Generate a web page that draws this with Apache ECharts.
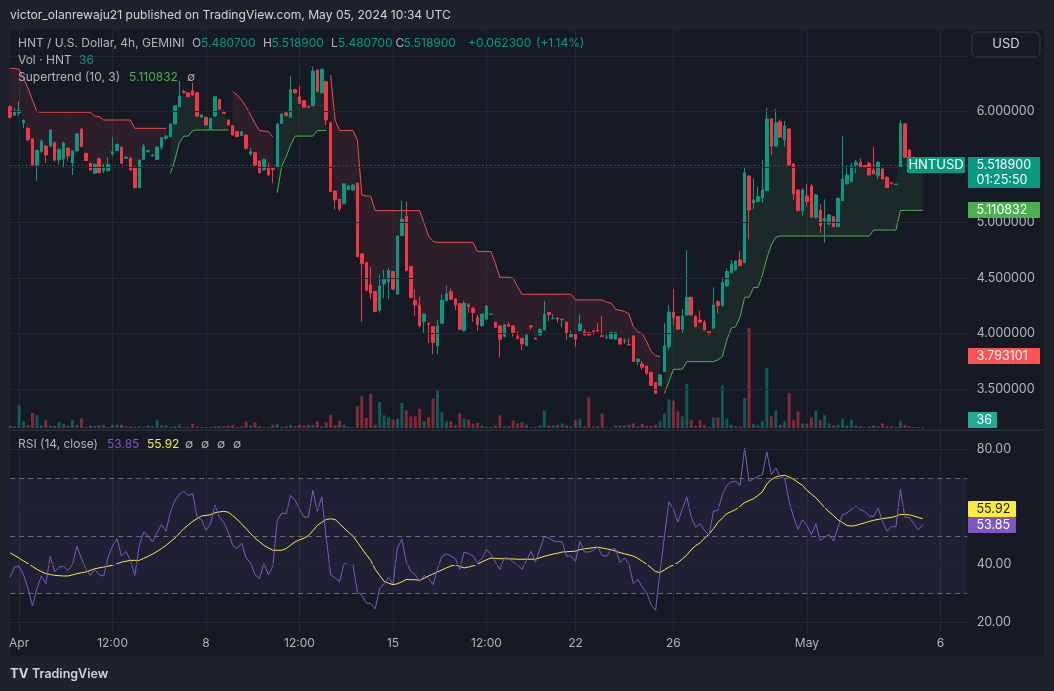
<!DOCTYPE html>
<html>
<head>
<meta charset="utf-8">
<script src="https://cdn.jsdelivr.net/npm/echarts@6/dist/echarts.min.js"></script>
<style>
html,body{margin:0;padding:0;background:#1e222d;overflow:hidden}
#chart{width:1054px;height:691px}
</style>
</head>
<body>
<div id="chart"></div>
<script>
// ---------- DATA ----------
const tickIdx  = [2, 23, 44, 65, 86, 107, 127, 149, 179, 209];
const tickText = ['Apr', '12:00', '8', '12:00', '15', '12:00', '22', '26', 'May', '6'];
const priceLabelVals = [3.5, 4.0, 4.5, 5.0, 6.0];
const priceGridVals  = [3.5, 4.0, 4.5, 5.0, 5.5, 6.0, 6.5];
const rsiLabelVals   = [20, 40, 80];
const rsiGridVals    = [20, 40, 60, 80];
const rsiDashVals    = [30, 50, 70];

const opens = [
6.045,5.97,5.99,5.90,5.85,5.754,5.52,5.64,5.69,5.69,
5.72,5.565,5.574,5.67,5.54,5.646,5.844,5.625,5.535,5.445,
5.574,5.47,5.468,5.62,5.65,5.68,5.58,5.58,5.495,5.315,
5.57,5.64,5.60,5.57,5.68,5.76,5.775,5.89,6.045,6.18,
6.17,6.19,6.17,5.95,5.95,5.845,5.96,6.11,6.0,5.925,
5.875,5.82,5.785,5.79,5.62,5.63,5.556,5.475,5.50,5.49,
5.50,5.895,5.99,5.95,6.20,6.135,6.10,6.05,6.054,6.376,
6.17,6.27,5.90,5.285,5.21,5.17,5.30,5.295,5.355,4.72,
4.64,4.44,4.38,4.21,4.448,4.468,4.56,4.355,4.883,5.06,
4.604,4.297,4.259,4.108,4.09,4.063,3.89,4.094,4.297,4.378,
4.313,4.27,4.027,4.26,4.23,4.146,
4.072,4.13,4.174,4.103,4.07,3.973,4.08,4.07,3.973,3.958,
3.892,4.07,3.96,3.988,4.033,4.19,4.135,4.14,4.125,4.103,
3.973,4.0,4.027,4.018,4.01,4.025,4.03,3.98,3.962,3.955,
3.95,3.958,3.932,3.902,3.98,3.748,3.727,3.709,3.652,3.559,
3.532,3.658,3.883,4.193,4.153,4.04,4.168,4.328,4.153,4.123,
4.103,4.018,4.049,4.288,4.252,4.43,4.55,4.574,4.664,4.64,
5.42,5.18,5.19,5.225,5.288,5.934,5.69,5.91,5.745,5.844,
5.529,5.295,5.108,5.24,5.33,5.045,5.114,5.015,4.988,5.054,
4.964,5.198,5.35,5.37,5.52,5.545,5.514,5.535,5.475,5.423,
5.484,5.409,5.36,5.345,5.50,5.89,5.655,5.58,5.52,5.4807];

const closes = [
5.95,6.0,6.01,5.92,5.745,5.52,5.65,5.736,5.61,5.835,
5.565,5.66,5.718,5.60,5.646,5.80,5.685,5.56,5.475,5.526,
5.45,5.50,5.526,5.64,5.706,5.535,5.59,5.475,5.315,5.565,
5.69,5.65,5.61,5.68,5.766,5.78,5.89,6.054,6.14,6.175,
6.135,6.15,5.96,5.97,5.88,5.94,6.135,6.024,5.985,5.88,
5.79,5.775,5.82,5.67,5.64,5.517,5.45,5.57,5.43,5.48,
5.89,5.98,5.964,6.20,6.17,6.075,6.04,6.04,6.367,6.18,
6.382,5.925,5.28,5.205,5.123,5.35,5.333,5.34,4.694,4.63,
4.39,4.364,4.20,4.43,4.49,4.568,4.40,4.88,5.033,4.568,
4.324,4.259,4.07,4.177,4.085,3.92,4.07,4.30,4.358,4.31,
4.26,4.04,4.274,4.245,4.19,4.08,
4.177,4.25,4.176,4.058,3.95,4.08,4.066,4.01,3.955,3.907,
3.988,4.06,3.95,4.04,4.177,4.17,4.138,4.13,4.13,4.003,
4.0,3.95,4.087,3.988,3.988,4.02,4.025,3.975,3.967,4.01,
4.01,3.907,3.937,3.90,3.748,3.772,3.697,3.643,3.532,3.463,
3.628,3.89,4.193,4.144,4.04,4.16,4.328,4.168,4.063,4.105,
4.033,3.997,4.259,4.252,4.46,4.56,4.628,4.655,4.613,5.45,
5.114,5.205,5.234,5.295,5.934,5.69,5.90,5.77,5.871,5.52,
5.259,5.108,5.295,5.19,5.05,5.25,4.973,5.04,5.07,4.964,
5.22,5.394,5.43,5.505,5.545,5.50,5.50,5.43,5.44,5.545,
5.394,5.315,5.355,5.348,5.895,5.59,5.58,5.52,5.4566,5.5189];

const lows = [
5.94,5.96,5.96,5.85,5.74,5.51,5.378,5.63,5.54,5.68,
5.55,5.53,5.50,5.56,5.43,5.64,5.68,5.555,5.465,5.44,
5.445,5.445,5.46,5.60,5.645,5.53,5.575,5.47,5.31,5.31,
5.565,5.635,5.60,5.565,5.655,5.74,5.77,5.885,6.04,6.165,
6.13,6.145,5.955,5.945,5.875,5.84,5.955,6.02,5.98,5.875,
5.785,5.77,5.78,5.655,5.60,5.51,5.445,5.47,5.425,5.355,
5.495,5.89,5.96,5.945,6.165,6.07,6.035,6.035,6.05,6.175,
6.165,5.88,5.275,5.12,5.10,5.165,5.295,5.29,4.69,4.108,
4.385,4.31,4.195,4.19,4.32,4.31,4.395,4.35,4.88,4.56,
4.32,4.16,4.054,4.009,3.913,3.814,3.814,4.09,4.29,4.305,
4.213,4.035,4.02,4.19,4.108,4.027,
4.06,4.125,4.17,4.05,3.784,3.97,4.06,3.973,3.95,3.853,
3.89,4.033,3.948,3.985,4.03,4.114,4.13,4.10,4.054,3.943,
3.97,3.883,4.02,3.985,3.985,3.99,4.02,3.97,3.955,3.95,
3.945,3.90,3.907,3.895,3.745,3.718,3.673,3.628,3.53,3.46,
3.53,3.655,3.847,4.07,4.035,4.0,4.165,4.165,4.06,4.094,
4.03,3.99,4.045,4.184,4.25,4.425,4.545,4.57,4.61,4.635,
4.85,5.12,5.185,5.18,5.285,5.61,5.685,5.765,5.685,5.515,
5.205,5.10,5.06,5.144,5.045,5.04,4.905,4.82,4.98,4.96,
4.96,5.195,5.345,5.365,5.445,5.495,5.495,5.425,5.435,5.39,
5.39,5.31,5.345,5.344,5.495,5.585,5.575,5.50,5.45,5.4807];

const highs = [
6.06,6.04,6.096,5.93,5.86,5.76,5.66,5.75,5.70,5.84,
5.73,5.67,5.73,5.68,5.65,5.81,5.85,5.63,5.54,5.53,
5.59,5.53,5.59,5.77,5.71,5.685,5.60,5.59,5.50,5.57,
5.71,5.655,5.612,5.69,5.77,5.79,5.895,6.06,6.28,6.20,
6.175,6.26,6.175,5.975,5.955,5.945,6.14,6.115,6.01,5.93,
5.88,5.825,5.825,5.795,5.675,5.635,5.56,5.575,5.54,5.495,
5.895,5.985,5.995,6.32,6.205,6.23,6.105,6.055,6.405,6.38,
6.39,6.28,5.91,5.29,5.215,5.355,5.34,5.345,5.36,4.725,
4.645,4.60,4.385,4.53,4.574,4.59,4.565,4.885,5.20,5.19,
4.61,4.40,4.333,4.18,4.10,4.07,4.123,4.35,4.43,4.41,
4.32,4.275,4.297,4.274,4.235,4.168,
4.18,4.255,4.18,4.105,4.075,4.085,4.10,4.075,4.018,3.96,
4.0,4.08,3.962,4.045,4.295,4.195,4.175,4.15,4.135,4.11,
4.024,4.005,4.175,4.04,4.015,4.03,4.094,4.16,3.99,4.015,
4.015,3.96,3.955,3.958,3.985,3.775,3.754,3.712,3.655,3.562,
3.635,4.094,4.259,4.40,4.158,4.222,4.754,4.335,4.17,4.207,
4.123,4.02,4.418,4.304,4.508,4.589,4.664,4.66,4.745,5.505,
5.425,5.40,5.324,5.565,6.036,5.94,6.02,5.93,5.916,5.85,
5.535,5.30,5.31,5.35,5.35,5.26,5.17,5.21,5.075,5.06,
5.225,5.78,5.51,5.54,5.565,5.58,5.52,5.55,5.685,5.555,
5.49,5.42,5.365,5.35,5.925,5.90,5.66,5.60,5.53,5.5189];

const volumes = [
108,68,908,268,108,600,508,108,308,92,92,228,160,92,332,132,388,40,108,92,108,132,40,132,132,132,68,68,40,68,40,108,68,332,
108,108,40,68,132,40,40,172,68,40,40,40,68,68,68,92,120,40,68,268,92,228,68,40,40,132,160,40,68,132,68,132,108,132,132,268,
68,228,532,108,292,132,40,28,868,1268,400,1372,132,1040,508,428,332,372,1000,708,468,468,772,268,428,1172,1508,628,268,268,108,588,372,332,172,200,
108,40,40,108,508,68,68,308,188,228,132,28,40,108,708,108,108,132,188,108,68,308,372,68,1228,68,68,588,28,28,108,108,108,132,188,68,
172,92,68,132,268,572,1132,1092,668,468,1760,332,92,308,132,40,428,428,1708,372,132,68,68,1200,4000,172,132,268,2400,468,708,132,268,1400,308,668,
188,172,428,708,308,508,188,108,132,372,108,332,108,68,28,68,108,68,188,68,68,40,268,132,68,40,40,36];

const N = null;
const stDown = [
6.39,6.39,6.38,6.30,6.21,6.105,6.0,5.995,5.995,5.995,
5.995,5.995,5.995,5.995,5.995,5.995,5.995,5.995,5.995,5.96,
5.955,5.925,5.925,5.925,5.925,5.925,5.925,5.925,5.85,5.85,
5.85,5.85,5.85,5.85,5.85,5.85,N,N,N,N,
N,N,N,N,N,N,N,N,N,N,
6.18,6.15,6.105,6.045,5.97,5.895,5.83,5.826,5.82,5.77,
N,N,N,N,N,N,N,N,N,N,
N,N,6.33,5.925,5.83,5.83,5.83,5.83,5.745,5.25,
5.24,5.24,5.108,5.108,5.108,5.108,5.108,5.108,5.108,5.108,
5.108,5.108,5.108,4.994,4.88,4.83,4.823,4.823,4.823,4.823,
4.823,4.823,4.823,4.823,4.823,4.74,4.74,4.74,4.74,4.634,
4.508,4.508,4.508,4.50,4.423,4.355,4.355,4.355,4.355,4.355,
4.355,4.355,4.355,4.355,4.355,4.355,4.355,4.304,4.304,4.304,
4.304,4.304,4.304,4.304,4.283,4.275,4.22,4.21,4.20,4.178,
4.063,4.018,4.0,3.928,3.838,3.802,3.793101,N,N,N,
N,N,N,N,N,N,N,N,N,N,
N,N,N,N,N,N,N,N,N,N,
N,N,N,N,N,N,N,N,N,N,
N,N,N,N,N,N,N,N,N,N,
N,N,N,N,N,N,N,N,N,N,
N,N,N,N,N,N];

const stUp = [
N,N,N,N,N,N,N,N,N,N,
N,N,N,N,N,N,N,N,N,N,
N,N,N,N,N,N,N,N,N,N,
N,N,N,N,N,N,5.445,5.565,5.72,5.78,
5.78,5.83,5.835,5.835,5.835,5.835,5.835,5.835,5.835,5.835,
N,N,N,N,N,N,N,N,N,N,
5.27,5.51,5.595,5.70,5.78,5.78,5.78,5.78,5.78,5.83,
5.83,5.83,N,N,N,N,N,N,N,N,
N,N,N,N,N,N,N,N,N,N,
N,N,N,N,N,N,N,N,N,N,
N,N,N,N,N,N,N,N,N,N,
N,N,N,N,N,N,N,N,N,N,
N,N,N,N,N,N,N,N,N,N,
N,N,N,N,N,N,N,N,N,N,
N,N,N,N,N,N,N,3.463,3.567,3.679,
3.679,3.68,3.748,3.748,3.748,3.748,3.748,3.748,3.748,3.763,
3.793,3.943,4.049,4.063,4.153,4.328,4.328,4.415,4.415,4.529,
4.68,4.80,4.868,4.88,4.88,4.88,4.88,4.88,4.88,4.88,
4.88,4.88,4.88,4.88,4.88,4.88,4.88,4.88,4.88,4.88,
4.88,4.88,4.88,4.88,4.934,4.934,4.934,4.934,4.934,4.934,
5.108,5.110832,5.110832,5.110832,5.110832,5.110832];

const rsi = [
35.7,39.2,39.4,36.5,31.7,25.7,31.7,36.1,33.4,42.9,
37.5,39.2,39.4,38.0,40.0,46.4,42.1,38.6,36.3,38.4,
36.5,36.1,42.7,46.5,49.0,43.0,44.6,41.5,36.3,46.7,
51.3,49.9,47.9,51.1,53.9,51.6,58.3,62.3,64.4,65.5,
64.0,64.6,56.5,55.6,51.9,54.2,60.6,56.5,54.6,51.3,
46.7,45.6,47.5,42.3,40.7,36.5,35.2,40.6,36.5,39.4,
55.4,57.9,57.7,64.0,62.3,59.2,56.5,56.5,65.8,58.5,
63.5,49.3,36.5,35.4,34.2,40.4,40.0,40.1,30.5,29.4,
26.8,26.5,24.7,31.7,33.4,35.7,33.4,45.8,48.8,40.9,
37.7,36.5,34.2,36.3,35.2,33.1,38.6,42.9,43.8,43.0,
42.1,38.4,44.4,43.8,43.0,40.6,
42.3,45.3,43.5,40.9,38.4,42.3,42.3,40.9,39.8,38.4,
41.5,44.6,40.9,45.3,49.8,49.3,48.2,48.1,47.9,43.0,
43.0,41.2,48.1,44.4,44.4,45.0,46.1,43.3,42.9,45.3,
45.6,40.7,42.3,40.4,33.4,34.9,32.3,30.3,26.1,24.2,
37.6,50.0,61.7,59.4,54.8,59.2,63.5,56.5,53.0,54.2,
51.9,50.2,58.6,58.8,64.3,67.5,68.7,68.9,67.5,80.5,
68.9,69.8,70.6,71.2,79.1,71.2,73.5,70.4,70.0,61.9,
56.5,52.3,55.6,53.6,50.4,54.2,48.4,49.6,50.4,48.2,
53.1,57.3,57.9,59.2,60.3,59.1,58.5,56.8,56.8,59.7,
54.8,51.6,53.3,53.1,66.1,56.5,56.4,54.2,52.1,53.85];

const rsiMa = [
44.1,43.2,42.3,41.3,40.4,39.4,38.4,37.6,36.9,36.6,
36.3,36.2,36.1,36.1,36.5,36.9,37.2,37.5,38.0,38.6,
38.9,39.2,39.5,39.8,40.3,40.9,41.2,41.5,41.5,41.5,
42.2,42.9,43.7,44.6,45.6,46.7,48.0,49.2,50.9,52.5,
53.8,55.0,56.0,56.9,57.1,57.3,58.0,58.3,58.5,58.2,
57.0,55.7,54.1,52.5,50.8,49.2,48.0,46.7,45.8,45.0,
45.0,45.0,45.6,46.8,47.9,48.6,49.2,50.1,51.8,53.6,
54.7,55.7,55.9,55.7,54.2,52.7,51.3,49.9,47.8,45.6,
43.5,41.5,38.4,36.3,34.2,33.6,33.1,33.4,34.1,34.9,
34.8,34.8,34.6,35.3,36.1,36.8,37.5,38.2,38.9,39.5,
40.0,39.4,38.9,39.2,39.6,40.2,
41.0,41.7,42.3,42.2,42.1,42.1,42.0,42.0,41.9,41.9,
41.9,41.9,41.9,42.4,42.9,43.3,43.7,44.0,44.4,44.5,
44.6,44.7,45.2,45.5,45.7,45.9,46.1,45.8,45.5,45.2,
44.7,44.2,43.8,43.4,43.0,42.2,41.2,40.2,38.9,37.6,
37.3,38.2,39.2,39.9,40.7,42.0,43.3,45.2,46.6,47.6,
49.2,50.6,52.5,54.6,56.2,57.7,58.4,59.1,60.3,61.5,
62.2,62.9,64.0,65.3,68.0,69.5,70.4,70.8,71.0,70.4,
69.6,68.5,67.5,65.8,64.5,63.2,61.5,59.8,58.3,57.0,
55.5,54.6,53.6,53.4,53.6,54.1,54.5,55.0,55.4,55.7,
56.0,56.2,56.4,56.8,57.4,57.4,57.3,56.9,56.4,55.92];

// ---------- CHART ----------
const M = 216;                       // category slots (candles + right margin)
const categories = Array.from({length: M}, () => '');
tickIdx.forEach((k, j) => { categories[k] = tickText[j]; });
const isTick = (i, v) => v !== '';

const FONT = 'Inter, "Noto Sans", sans-serif';
const GRAY = '#b2b5be';
const UP = '#089981', DOWN = '#f23645';
const GRID_C = '#242733';
const LF = '12px ' + FONT;

const candleData = opens.map((o, i) => [o, closes[i], lows[i], highs[i]]);
const volData = volumes.map((v, i) => ({
  value: v,
  itemStyle: {color: closes[i] >= opens[i] ? 'rgba(8,153,129,0.5)' : 'rgba(242,54,69,0.5)'}
}));
const mids = opens.map((o, i) => (o + closes[i]) / 2);
function segments(arr) {
  const segs = []; let s = null;
  for (let i = 0; i < arr.length; i++) {
    if (arr[i] != null) { if (s === null) s = i; }
    else if (s !== null) { segs.push([s, i - 1]); s = null; }
  }
  if (s !== null) segs.push([s, arr.length - 1]);
  return segs;
}
const fillData = segments(stUp).map(s => [s[0], s[1], 1])
  .concat(segments(stDown).map(s => [s[0], s[1], -1]));

const gridL = 10.2, step = 4.451;
const gridW = step * (M - 1);

function txt(x, y, text, fill, font, align) {
  return {type: 'text', x: x, y: y, z: 100, silent: true,
    style: {text: text, fill: fill, font: font || LF, align: align || 'left', verticalAlign: 'middle'}};
}
function box(x, y, w, h, fill) {
  return {type: 'rect', z: 90, silent: true, shape: {x: x, y: y, width: w, height: h, r: 1}, style: {fill: fill}};
}

const graphics = [
  {type: 'rect', z: -10, silent: true, shape: {x: 10, y: 30, width: 1034, height: 626}, style: {fill: '#161a25'}},
  {type: 'rect', z: 50, silent: true, shape: {x: 10, y: 429.5, width: 1034, height: 1.5}, style: {fill: '#2a2e39'}},
  txt(10, 15.5, 'victor_olanrewaju21 published on TradingView.com, May 05, 2024 10:34 UTC', '#d1d4dc', '12.1px ' + FONT),
  txt(18, 43.5, 'HNT / U.S. Dollar, 4h, GEMINI', GRAY),
  txt(192, 43.5, 'O', GRAY), txt(201, 43.5, '5.480700', UP),
  txt(263, 43.5, 'H', GRAY), txt(271.5, 43.5, '5.518900', UP),
  txt(331, 43.5, 'L', GRAY), txt(338, 43.5, '5.480700', UP),
  txt(395.5, 43.5, 'C', GRAY), txt(403.5, 43.5, '5.518900', UP),
  txt(468, 43.5, '+0.062300', UP), txt(536, 43.5, '(+1.14%)', UP),
  txt(18, 60.5, 'Vol · HNT', GRAY), txt(79, 60.5, '36', UP),
  txt(18, 77.5, 'Supertrend (10, 3)', GRAY), txt(129, 77.5, '5.110832', '#4caf50'), txt(187, 77.5, '∅', GRAY),
  txt(18, 444.5, 'RSI (14, close)', GRAY), txt(107, 444.5, '53.85', '#7e57c2'), txt(147, 444.5, '55.92', '#ffeb3b'),
  txt(185, 444.5, '∅', GRAY), txt(201, 444.5, '∅', GRAY), txt(217, 444.5, '∅', GRAY), txt(233, 444.5, '∅', GRAY),
  // price-axis labels
  {type: 'rect', z: 90, silent: true, shape: {x: 972, y: 32, width: 68, height: 25, r: 5}, style: {fill: 'transparent', stroke: '#363a45', lineWidth: 1}},
  txt(1006, 44.5, 'USD', '#d1d4dc', '13px ' + FONT, 'center'),
  box(907, 157, 58, 16, UP), txt(936, 165.5, 'HNTUSD', '#ffffff', '13px ' + FONT, 'center'),
  box(968, 157, 72, 31, UP), txt(976.5, 165.5, '5.518900', '#ffffff', '12.5px ' + FONT), txt(976.5, 180, '01:25:50', '#ffffff', '12.5px ' + FONT),
  box(968, 202, 72, 16, '#4caf50'), txt(976.5, 210.5, '5.110832', '#ffffff', '12.5px ' + FONT),
  box(968, 348, 72, 16, '#ff5252'), txt(976.5, 356.5, '3.793101', '#ffffff', '12.5px ' + FONT),
  box(968, 412, 29, 16, '#22ab94'), txt(976.5, 420.5, '36', '#ffffff', '12.5px ' + FONT),
  box(968, 501, 48, 16, '#ffeb3b'), txt(976.5, 509.5, '55.92', '#131722', '12.5px ' + FONT),
  box(968, 517, 48, 16, '#7e57c2'), txt(976.5, 525.5, '53.85', '#ffffff', '12.5px ' + FONT),
  // footer logo
  txt(10, 674, 'TV', '#d1d4dc', 'bold 13px ' + FONT),
  txt(32, 674, 'TradingView', '#d1d4dc', '600 12.5px ' + FONT)
];

const option = {
  backgroundColor: '#1e222d',
  animation: false,
  textStyle: {fontFamily: FONT},
  graphic: {elements: graphics},
  grid: [
    {left: gridL, top: 30, width: gridW, height: 398},
    {left: gridL, top: 432, width: gridW, height: 200.5}
  ],
  xAxis: [
    {type: 'category', gridIndex: 0, data: categories, boundaryGap: false,
     axisLine: {show: false}, axisTick: {show: false}, axisLabel: {show: false},
     splitLine: {show: true, interval: isTick, lineStyle: {color: GRID_C, width: 1}}},
    {type: 'category', gridIndex: 1, data: categories, boundaryGap: false,
     axisLine: {show: false}, axisTick: {show: false},
     axisLabel: {show: true, interval: 0, color: GRAY, fontSize: 12, fontFamily: FONT, margin: 5},
     splitLine: {show: true, interval: isTick, lineStyle: {color: GRID_C, width: 1}}}
  ],
  yAxis: [
    {type: 'value', gridIndex: 0, position: 'right', min: 3.15, max: 6.736, interval: 0.05,
     axisLine: {show: false}, axisTick: {show: false}, splitLine: {show: false},
     axisLabel: {margin: 9.5, color: GRAY, fontSize: 12.5, fontFamily: FONT,
       formatter: v => priceLabelVals.some(p => Math.abs(p - v) < 1e-6) ? v.toFixed(6) : ''}},
    {type: 'value', gridIndex: 0, min: 0, max: 15920, show: false},
    {type: 'value', gridIndex: 1, position: 'right', min: 16.5, max: 86, interval: 0.5,
     axisLine: {show: false}, axisTick: {show: false}, splitLine: {show: false},
     axisLabel: {margin: 9.5, color: GRAY, fontSize: 12.5, fontFamily: FONT,
       formatter: v => rsiLabelVals.some(p => Math.abs(p - v) < 1e-6) ? v.toFixed(2) : ''}}
  ],
  series: [
    {type: 'line', xAxisIndex: 0, yAxisIndex: 0, data: [], z: 1, silent: true,
     markLine: {silent: true, animation: false, symbol: ['none', 'none'], label: {show: false},
       lineStyle: {color: GRID_C, type: 'solid', width: 1},
       data: priceGridVals.map(v => ({yAxis: v}))}},
    {type: 'bar', xAxisIndex: 0, yAxisIndex: 1, data: volData, barWidth: 3, z: 2, silent: true},
    {type: 'custom', xAxisIndex: 0, yAxisIndex: 0, z: 2, silent: true, data: fillData,
     dimensions: ['s', 'e', 'd'], encode: {x: 0, y: 2},
     renderItem: function (params, api) {
       const s = api.value(0), e = api.value(1), d = api.value(2);
       const arr = d > 0 ? stUp : stDown;
       const pts = [];
       for (let i = s; i <= e; i++) pts.push(api.coord([i, arr[i]]));
       for (let i = e; i >= s; i--) pts.push(api.coord([i, mids[i]]));
       return {type: 'polygon', shape: {points: pts},
         style: {fill: d > 0 ? 'rgba(76,175,80,0.10)' : 'rgba(255,82,82,0.10)'}};
     }},
    {type: 'line', xAxisIndex: 0, yAxisIndex: 0, data: stUp, z: 3, silent: true, showSymbol: false,
     connectNulls: false, lineStyle: {color: '#4caf50', width: 1}},
    {type: 'line', xAxisIndex: 0, yAxisIndex: 0, data: stDown, z: 3, silent: true, showSymbol: false,
     connectNulls: false, lineStyle: {color: '#f24b4b', width: 1}},
    {type: 'candlestick', xAxisIndex: 0, yAxisIndex: 0, data: candleData, barWidth: 3, z: 4, silent: true, clip: false,
     itemStyle: {color: UP, color0: DOWN, borderColor: UP, borderColor0: DOWN, borderWidth: 1},
     markLine: {silent: true, animation: false, symbol: ['none', 'none'], label: {show: false},
       lineStyle: {color: UP, type: [1, 3], width: 1}, data: [{yAxis: 5.5189}]}},
    // RSI pane
    {type: 'line', xAxisIndex: 1, yAxisIndex: 2, data: [], z: 1, silent: true,
     markArea: {silent: true, itemStyle: {color: 'rgba(126,87,194,0.10)'}, data: [[{yAxis: 30}, {yAxis: 70}]]},
     markLine: {silent: true, animation: false, symbol: ['none', 'none'], label: {show: false},
       lineStyle: {color: GRID_C, type: 'solid', width: 1},
       data: rsiGridVals.map(v => ({yAxis: v}))}},
    {type: 'line', xAxisIndex: 1, yAxisIndex: 2, data: [], z: 1.5, silent: true,
     markLine: {silent: true, animation: false, symbol: ['none', 'none'], label: {show: false},
       lineStyle: {color: '#787b86', type: [5, 4], width: 1, opacity: 0.8},
       data: rsiDashVals.map(v => ({yAxis: v}))}},
    {type: 'line', xAxisIndex: 1, yAxisIndex: 2, data: rsiMa, z: 3, silent: true, showSymbol: false,
     lineStyle: {color: '#ffeb3b', width: 1}},
    {type: 'line', xAxisIndex: 1, yAxisIndex: 2, data: rsi, z: 4, silent: true, showSymbol: false,
     lineStyle: {color: '#7e57c2', width: 1}}
  ]
};
const chart = echarts.init(document.getElementById('chart'), null, {renderer: 'canvas'});
chart.setOption(option);
</script>
</body>
</html>
